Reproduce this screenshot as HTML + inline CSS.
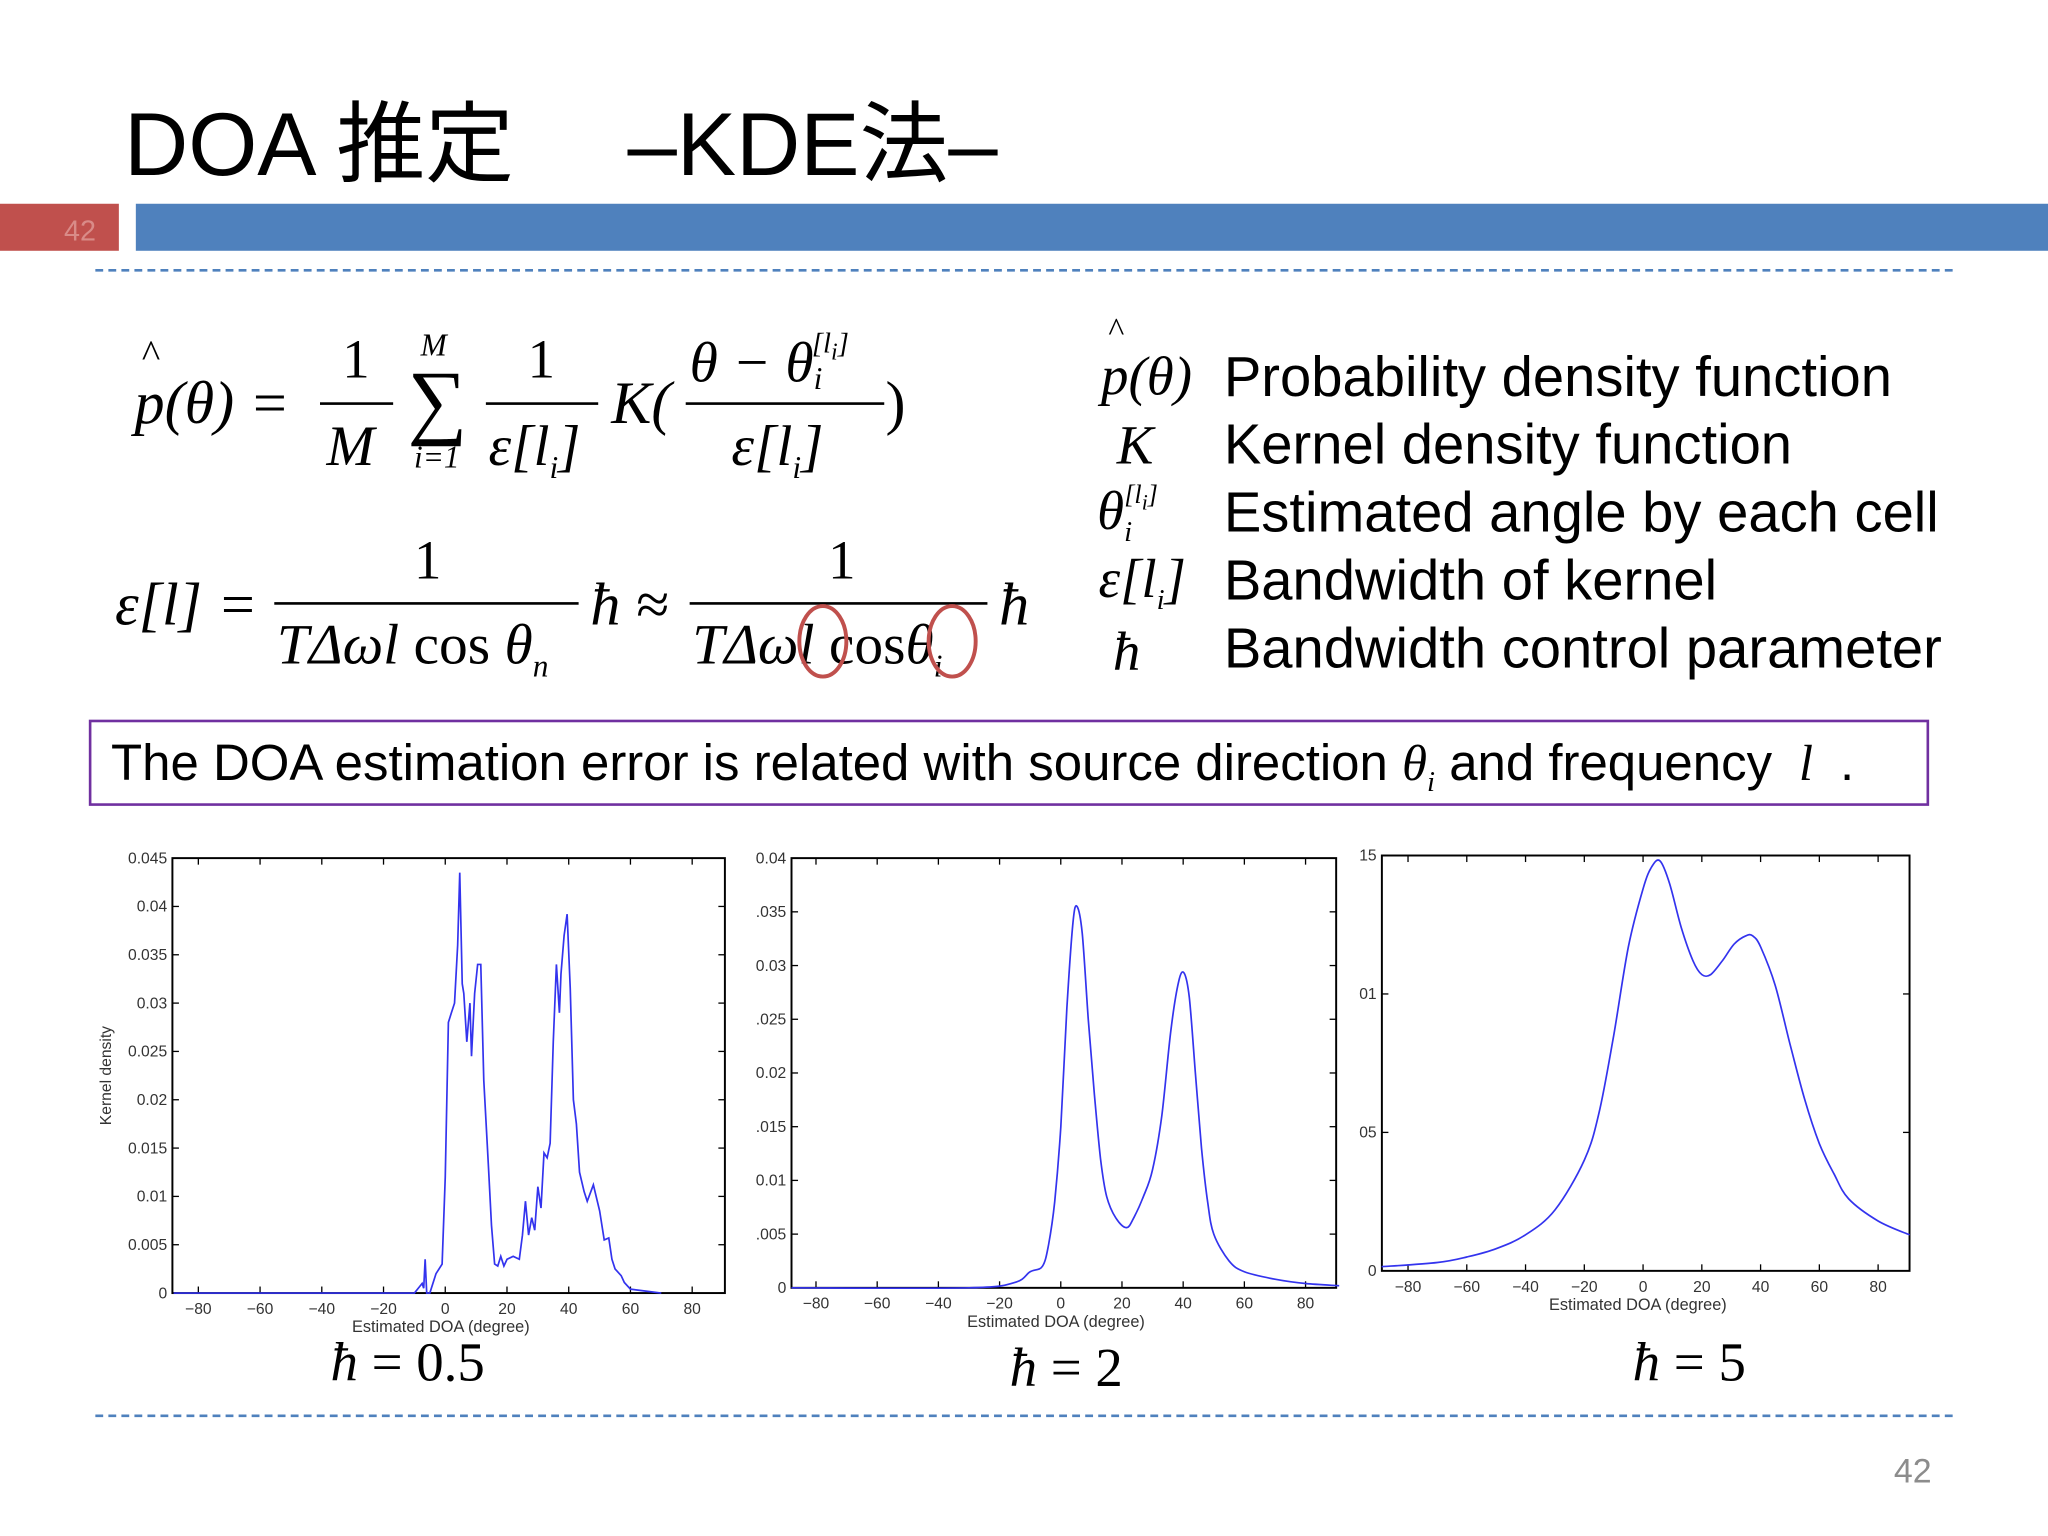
<!DOCTYPE html>
<html><head><meta charset="utf-8">
<style>
html,body{margin:0;padding:0;background:#fff;overflow:hidden}
#wrap{position:absolute;left:0;top:0;width:1568px;height:1176px;transform:scale(1.30612);transform-origin:0 0;}
.a{position:absolute;white-space:nowrap;}
.s{font-family:"Liberation Serif",serif;font-style:italic;}
.r{font-family:"Liberation Serif",serif;}
.sans{font-family:"Liberation Sans",sans-serif;}
.fl{position:absolute;height:2px;background:#000;}
</style></head><body>
<div id="wrap">
<div class="a sans" style="left:95px;top:55px;font-size:68px;font-family:'Liberation Sans','Noto Sans CJK JP',sans-serif;">DOA 推定　 –KDE法–</div>
<div class="a" style="left:0;top:156px;width:91px;height:36px;background:#c0504d;"><span class="sans" style="position:absolute;left:49px;top:8px;font-size:22px;color:#d98b88;">42</span></div>
<div class="a" style="left:104px;top:156px;width:1464px;height:36px;background:#4f81bd;"></div>
<div class="a" style="left:73px;top:206px;width:1422px;border-top:2px dashed #4f81bd;"></div>

<!-- formula 1 -->
<div>
<div class="a s" style="left:108px;top:255px;font-size:30px;">^</div>
<div class="a s" style="left:103px;top:282px;font-size:46px;">p(θ) =</div>
<div class="a r" style="left:262px;top:252px;font-size:42px;">1</div>
<div class="fl" style="left:245px;top:308px;width:56px;"></div>
<div class="a s" style="left:250px;top:316px;font-size:44px;">M</div>
<div class="a s" style="left:322px;top:252px;font-size:24px;">M</div>
<div class="a r" style="left:312px;top:270px;font-size:64px;">∑</div>
<div class="a s" style="left:317px;top:338px;font-size:24px;">i=1</div>
<div class="a r" style="left:404px;top:252px;font-size:42px;">1</div>
<div class="fl" style="left:372px;top:308px;width:86px;"></div>
<div class="a s" style="left:374px;top:316px;font-size:44px;">ε[l<sub style="font-size:24px">i</sub>]</div>
<div class="a s" style="left:468px;top:282px;font-size:46px;">K(</div>
<div class="a s" style="left:528px;top:250px;font-size:44px;">θ − θ<sub style="font-size:24px;vertical-align:-6px">i</sub><sup style="font-size:22px;vertical-align:22px;margin-left:-8px">[l<sub>i</sub>]</sup></div>
<div class="fl" style="left:525px;top:308px;width:152px;"></div>
<div class="a s" style="left:560px;top:316px;font-size:44px;">ε[l<sub style="font-size:24px">i</sub>]</div>
<div class="a r" style="left:678px;top:282px;font-size:46px;">)</div>
</div>
<!-- formula 2 -->
<div>
<div class="a s" style="left:88px;top:436px;font-size:46px;">ε[l] =</div>
<div class="a r" style="left:317px;top:406px;font-size:42px;">1</div>
<div class="fl" style="left:210px;top:461px;width:233px;"></div>
<div class="a s" style="left:212px;top:468px;font-size:44px;">TΔωl <span class="r" style="font-style:normal">cos</span> θ<sub style="font-size:24px">n</sub></div>
<div class="a s" style="left:452px;top:436px;font-size:46px;">ħ ≈</div>
<div class="a r" style="left:634px;top:406px;font-size:42px;">1</div>
<div class="fl" style="left:528px;top:461px;width:228px;"></div>
<div class="a s" style="left:530px;top:468px;font-size:44px;">TΔωl <span class="r" style="font-style:normal">cos</span>θ<sub style="font-size:24px">i</sub></div>
<div class="a s" style="left:765px;top:436px;font-size:46px;">ħ</div>
<svg class="a" style="left:0;top:0" width="800" height="560">
<ellipse cx="630" cy="491" rx="18" ry="27" fill="none" stroke="#c0504d" stroke-width="3"/>
<ellipse cx="729" cy="491" rx="18" ry="27" fill="none" stroke="#c0504d" stroke-width="3"/>
</svg>
</div>
<!-- legend -->
<div>
<div class="a s" style="left:848px;top:238px;font-size:26px;">^</div>
<div class="a s" style="left:843px;top:265px;font-size:42px;">p(θ)</div>
<div class="a s" style="left:855px;top:318px;font-size:42px;">K</div>
<div class="a s" style="left:840px;top:368px;font-size:42px;">θ<sub style="font-size:22px">i</sub><sup style="font-size:20px;vertical-align:20px;margin-left:-6px">[l<sub>i</sub>]</sup></div>
<div class="a s" style="left:841px;top:420px;font-size:42px;">ε[l<sub style="font-size:22px">i</sub>]</div>
<div class="a s" style="left:852px;top:476px;font-size:42px;">ħ</div>
<div class="a sans" style="left:937px;top:265px;font-size:43px;">Probability density function</div>
<div class="a sans" style="left:937px;top:317px;font-size:43px;">Kernel density function</div>
<div class="a sans" style="left:937px;top:369px;font-size:43px;">Estimated angle by each cell</div>
<div class="a sans" style="left:937px;top:421px;font-size:43px;">Bandwidth of kernel</div>
<div class="a sans" style="left:937px;top:473px;font-size:43px;">Bandwidth control parameter</div>
</div>
<div class="a" style="left:68px;top:551px;width:1405px;height:62px;border:2px solid #7030a0;">
<span class="sans" style="position:absolute;left:15px;top:9px;font-size:39px;">The DOA estimation error is related with source direction <span class="s">θ<sub style="font-size:22px">i</sub></span> and frequency <span class="s">&nbsp;l&nbsp;</span> .</span></div>

<svg class="a" style="left:0;top:0" width="1568" height="1176" id="charts"></svg>

<div class="a s" style="left:253px;top:1020px;font-size:42px;">ħ <span class="r" style="font-style:normal">= 0.5</span></div>
<div class="a s" style="left:773px;top:1024px;font-size:42px;">ħ <span class="r" style="font-style:normal">= 2</span></div>
<div class="a s" style="left:1250px;top:1020px;font-size:42px;">ħ <span class="r" style="font-style:normal">= 5</span></div>
<div class="a" style="left:73px;top:1083px;width:1422px;border-top:2px dashed #4f81bd;"></div>
<div class="a sans" style="left:1450px;top:1111px;font-size:26px;color:#8c8c8c;">42</div>
</div>
<script>
const xTicks=[-80,-60,-40,-20,0,20,40,60,80];
const deg1=[-88,-10,-8,-7.5,-7,-6.5,-6,-5,-3,-1,0,1,2,3,4,4.7,5.5,6,7,8,8.5,9.5,10.5,11.5,12.5,14,15,16,17,18,19,20,22,24,25,26,27,28,29,30,31,32,33,34,35,36,37,37.5,38.5,39.5,40.5,41.5,42.5,43.5,45,46,48,50,51.5,53,54,55,57,58,60,65,70,80,91];
const val1=[0,0,0.0008,0.001,0.0005,0.0035,0,0,0.002,0.003,0.012,0.028,0.029,0.03,0.036,0.0435,0.032,0.031,0.026,0.03,0.0245,0.031,0.034,0.034,0.022,0.013,0.007,0.003,0.0028,0.0038,0.0028,0.0035,0.0038,0.0035,0.006,0.0095,0.006,0.0078,0.0065,0.011,0.0088,0.0145,0.014,0.0155,0.026,0.034,0.029,0.033,0.037,0.0392,0.0315,0.02,0.0175,0.0125,0.0105,0.0095,0.0112,0.0085,0.0055,0.0057,0.0035,0.0025,0.0018,0.0011,0.0004,0.0002,0];
const deg2=[-88,-30,-15,-10,-6,-4,-2,0,2,4,5.3,7,9,11,13,15,18,21.5,24,27,30,33,36,38.5,40.3,42,44,46,48,50,55,60,70,80,91];
const val2=[0,0,0.0005,0.0015,0.002,0.004,0.008,0.015,0.026,0.034,0.0355,0.033,0.025,0.018,0.012,0.0085,0.0065,0.0056,0.0066,0.0085,0.011,0.016,0.024,0.0285,0.0293,0.027,0.02,0.013,0.008,0.005,0.0025,0.0015,0.0008,0.0004,0.0002];
const deg3=[-89,-70,-60,-50,-40,-30,-20,-15,-10,-5,0,3,5.8,9,13,17,20,23,27,31,35,37.3,40,45,50,55,60,65,70,80,90.7];
const val3=[0.00015,0.0003,0.0005,0.0008,0.0013,0.0022,0.004,0.0057,0.0085,0.0117,0.0138,0.0146,0.0148,0.014,0.0124,0.0112,0.0107,0.0107,0.0112,0.0118,0.0121,0.0121,0.0117,0.0103,0.0082,0.0062,0.0046,0.0035,0.0026,0.0018,0.0013];
const yTicks1=[0,0.005,0.01,0.015,0.02,0.025,0.03,0.035,0.04,0.045];
const yLabels1=["0","0.005","0.01","0.015","0.02","0.025","0.03","0.035","0.04","0.045"];
const yTicks2=[0,0.005,0.01,0.015,0.02,0.025,0.03,0.035,0.04];
const yLabels2=["0",".005","0.01",".015","0.02",".025","0.03",".035","0.04"];
const yTicks3=[0,0.005,0.01,0.015];
const yLabels3=["0","05","01","15"];
const NS="http://www.w3.org/2000/svg";
const svg=document.getElementById('charts');
function mk(t,attrs,parent){const e=document.createElementNS(NS,t);for(const k in attrs)e.setAttribute(k,attrs[k]);parent.appendChild(e);return e;}
function smoothPath(pts){
  let d='M'+pts[0][0].toFixed(1)+','+pts[0][1].toFixed(1);
  for(let i=0;i<pts.length-1;i++){
    const p0=pts[Math.max(0,i-1)],p1=pts[i],p2=pts[i+1],p3=pts[Math.min(pts.length-1,i+2)];
    const c1=[p1[0]+(p2[0]-p0[0])/6,p1[1]+(p2[1]-p0[1])/6];
    const c2=[p2[0]-(p3[0]-p1[0])/6,p2[1]-(p3[1]-p1[1])/6];
    d+=' C'+c1.map(v=>v.toFixed(1)).join(',')+' '+c2.map(v=>v.toFixed(1)).join(',')+' '+p2.map(v=>v.toFixed(1)).join(',');
  }
  return d;
}
function chart(name,L,T,R,B,x0,x1,ymax,deg,val,yt,yl,ylabel,smooth){
  const g=mk('g',{},svg);
  
  
  const X=d=>L+(d-x0)/(x1-x0)*(R-L);
  const Y=v=>B-v/ymax*(B-T);
  const fr=mk('rect',{x:L,y:T,width:R-L,height:B-T,fill:'none',stroke:'#000','stroke-width':1.5},g);
  
  
  xTicks.forEach(t=>{const x=X(t);
    mk('line',{x1:x,x2:x,y1:B,y2:B-5,stroke:'#000'},g);mk('line',{x1:x,x2:x,y1:T,y2:T+5,stroke:'#000'},g);
    const tx=mk('text',{x:x,y:B+16,'font-size':12,'text-anchor':'middle','font-family':'Liberation Sans, sans-serif',fill:'#333'},g);
    
    
    tx.textContent=(t<0?'−':'')+Math.abs(t);});
  yt.forEach((t,i)=>{const y=Y(t);
    mk('line',{x1:L,x2:L+5,y1:y,y2:y,stroke:'#000'},g);mk('line',{x1:R,x2:R-5,y1:y,y2:y,stroke:'#000'},g);
    const tx=mk('text',{x:L-4,y:y+4,'font-size':12,'text-anchor':'end','font-family':'Liberation Sans, sans-serif',fill:'#333'},g);
    
    
    tx.textContent=yl[i];});
  const xl=mk('text',{x:(L+R)/2-6,y:B+30,'font-size':12.5,'text-anchor':'middle','font-family':'Liberation Sans, sans-serif',fill:'#333'},g);
  
  
  xl.textContent='Estimated DOA (degree)';
  if(ylabel){const t=mk('text',{x:0,y:0,'font-size':12,'text-anchor':'middle','font-family':'Liberation Sans, sans-serif',fill:'#333',transform:`translate(${L-47},${(T+B)/2}) rotate(-90)`},g);
    
    
    t.textContent=ylabel;}
  const pts=deg.map((d,i)=>[X(d),Y(val[i])]);
  let p;
  if(smooth){p=mk('path',{d:smoothPath(pts),fill:'none',stroke:'#3333ee','stroke-width':1.3},g);}
  else{p=mk('polyline',{points:pts.map(q=>q[0].toFixed(1)+','+q[1].toFixed(1)).join(' '),fill:'none',stroke:'#3333ee','stroke-width':1.3},g);}
  
  
}
chart('chart-h05',132,657,555,990,-88.4,90.6,0.045,deg1,val1,yTicks1,yLabels1,'Kernel density',false);
chart('chart-h2',606,657,1023,986,-88,90,0.04,deg2,val2,yTicks2,yLabels2,null,true);
chart('chart-h5',1058,655,1462,973,-88.9,90.7,0.015,deg3,val3,yTicks3,yLabels3,null,true);
</script>
</body></html>
